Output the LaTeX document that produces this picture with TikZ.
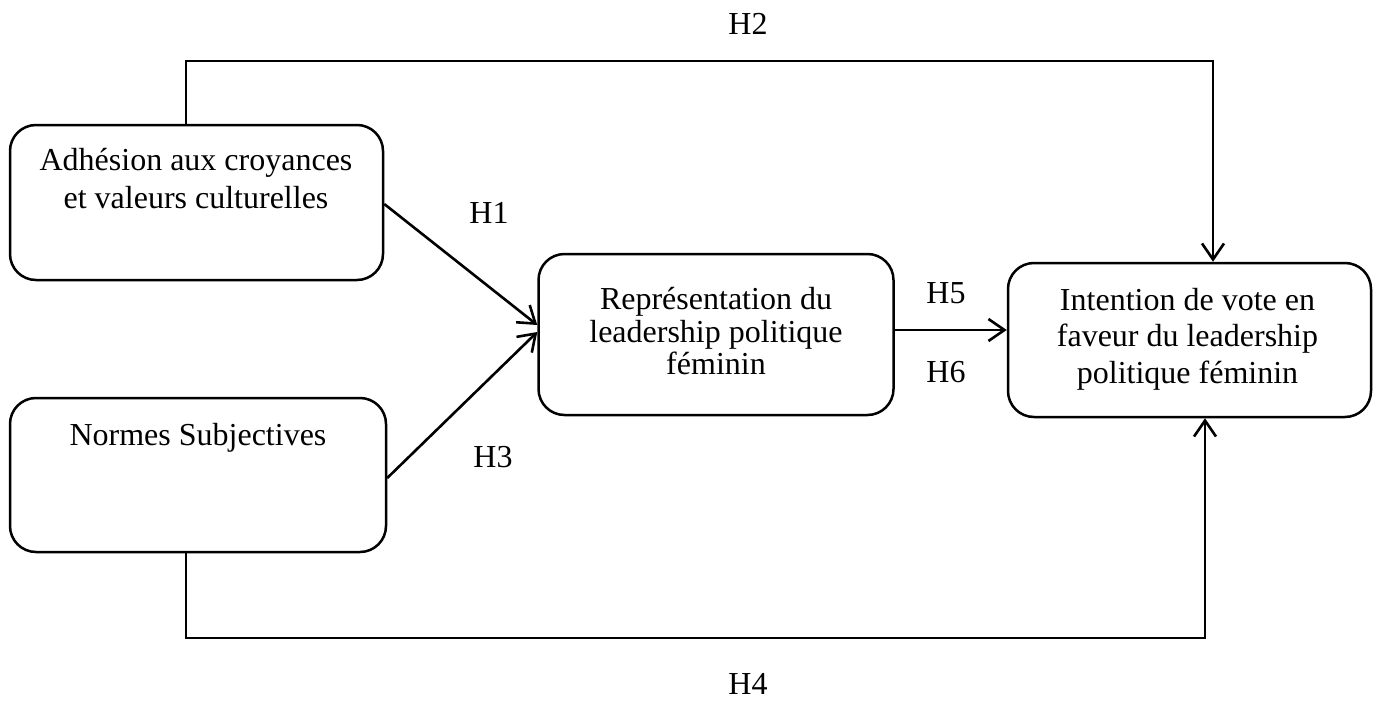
\documentclass[tikz,border=0pt]{standalone}
\usepackage{fontspec}
\setmainfont{Liberation Serif}
\usetikzlibrary{arrows.meta}
\begin{document}
\begin{tikzpicture}[x=1pt,y=-1pt,
  box/.style={draw, line width=2.5pt, rounded corners=26pt, inner sep=0pt},
  txt/.style={inner sep=0pt, align=center, font=\fontsize{32}{#1}\selectfont},
  txt/.default=38,
  lab/.style={inner sep=0pt, anchor=base, font=\fontsize{32}{38}\selectfont},
  arr/.style={line width=2.6pt, -{Straight Barb[length=16pt,width=22pt]}}]
\useasboundingbox (0,0) rectangle (1373,701);
% boxes
\node[box, minimum width=373pt, minimum height=155pt] (A) at (196.5,202.5) {};
\node[box, minimum width=376pt, minimum height=154pt] (N) at (198,475) {};
\node[box, minimum width=355pt, minimum height=161pt] (R) at (716,334.5) {};
\node[box, minimum width=363pt, minimum height=154pt] (I) at (1189.5,340) {};
% texts
\node[txt=38] (At) at (196,179) {Adhésion aux croyances\\et valeurs culturelles};
\node[txt, anchor=base] (Nt) at (198,445) {Normes Subjectives};
\node[txt=32.5] (Rt) at (716,331.5) {Représentation du\\leadership politique\\féminin};
\node[txt=36.5] (It) at (1187.5,339) {Intention de vote en\\faveur du leadership\\politique féminin};
% connectors
\draw[arr] ([yshift=-1.5pt]A.east) -- ([yshift=9.5pt]R.west);
\draw[arr] ([yshift=-3pt]N.east) -- ([yshift=2.5pt]R.west);
\coordinate (h5) at ([yshift=4.5pt]R.east);
\draw[arr] (h5) -- (h5 -| I.west);
\coordinate (h2s) at ([xshift=-10.5pt]A.north);
\coordinate (h2c) at (1213,61);
\draw[arr] (h2s) |- (h2c) -- (h2c |- I.north);
\coordinate (h4s) at ([xshift=-12pt]N.south);
\coordinate (h4c) at (1205,638);
\draw[arr] (h4s) |- (h4c) -- (h4c |- I.south);
% labels
\node[lab] (l2) at (748,35) {H2};
\node[lab] (l1) at (489,223) {H1};
\node[lab] (l3) at (493,467) {H3};
\node[lab] (l5) at (946,303) {H5};
\node[lab] (l6) at (946,382) {H6};
\node[lab] (l4) at (748,694) {H4};
\end{tikzpicture}
\end{document}
